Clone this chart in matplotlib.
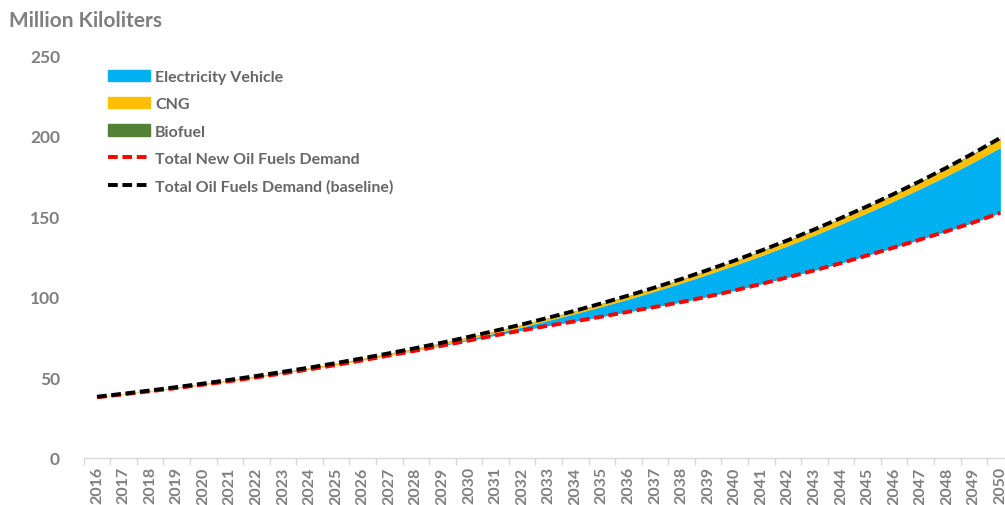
# oil_demand_chart.py
# Demanda de combustíveis: área empilhada (EV / CNG / Biofuel) sobre a nova demanda

import matplotlib
matplotlib.use("Agg")
import matplotlib.pyplot as plt
from matplotlib.patches import Patch
from matplotlib.lines import Line2D


# ---------- Dados ----------

years = list(range(2016, 2051))

baseline = [38.0, 39.9, 41.9, 44.0, 46.2, 48.5, 50.9, 53.5, 56.1, 58.9,
            61.9, 65.0, 68.2, 71.6, 75.2, 79.0, 82.9, 87.1, 91.4, 96.0,
            100.8, 105.8, 111.1, 116.7, 122.5, 128.7, 135.1, 141.8, 148.9, 156.2,
            163.9, 171.9, 180.3, 189.2, 198.6]

new_demand = [37.7, 39.5, 41.4, 43.4, 45.5, 47.7, 50.0, 52.5, 55.0, 57.7,
              60.6, 63.6, 66.6, 69.7, 72.9, 76.1, 79.2, 82.1, 84.8, 87.7,
              90.7, 93.7, 96.7, 100.2, 103.9, 108.0, 112.1, 116.4, 120.9, 125.7,
              130.6, 135.6, 140.8, 146.2, 152.1]

ev = [0.0, 0.0, 0.0, 0.0, 0.0, 0.0, 0.0, 0.1, 0.1, 0.2,
      0.1, 0.2, 0.3, 0.6, 0.9, 1.5, 2.1, 3.4, 4.8, 6.3,
      7.9, 9.8, 11.9, 13.8, 15.7, 17.5, 19.6, 21.8, 24.2, 26.5,
      28.9, 31.6, 34.4, 37.5, 40.5]

cng = [0.2, 0.3, 0.4, 0.5, 0.6, 0.7, 0.8, 0.8, 0.9, 0.9,
       1.0, 1.0, 1.1, 1.1, 1.2, 1.2, 1.4, 1.4, 1.5, 1.7,
       1.9, 2.0, 2.2, 2.4, 2.6, 2.8, 3.0, 3.2, 3.4, 3.6,
       3.9, 4.2, 4.6, 5.0, 5.5]

biofuel = [0.1, 0.1, 0.1, 0.1, 0.1, 0.1, 0.1, 0.1, 0.1, 0.1,
           0.2, 0.2, 0.2, 0.2, 0.2, 0.2, 0.2, 0.2, 0.3, 0.3,
           0.3, 0.3, 0.3, 0.3, 0.3, 0.4, 0.4, 0.4, 0.4, 0.4,
           0.5, 0.5, 0.5, 0.5, 0.5]

C_EV = "#00B0F0"
C_CNG = "#FFC000"
C_BIO = "#548235"
GREY = "#7F7F7F"
FONT = "Lato"

# ---------- Render ----------

x = list(range(len(years)))
top_ev = [a + b for a, b in zip(new_demand, ev)]
top_cng = [a + b for a, b in zip(top_ev, cng)]
top_bio = [a + b for a, b in zip(top_cng, biofuel)]

fig = plt.figure(figsize=(10.05, 5.06), dpi=100)
ax = fig.add_axes([0.0833, 0.0929, 0.9253, 0.7964])

ax.fill_between(x, new_demand, top_ev, color=C_EV, lw=0)
ax.fill_between(x, top_ev, top_cng, color=C_CNG, lw=0)
ax.fill_between(x, top_cng, top_bio, color=C_BIO, lw=0)

ax.plot(x, new_demand, color="#FF0000", lw=2.8, dashes=(2.5, 1.2), zorder=4)
ax.plot(x, baseline, color="black", lw=2.8, dashes=(2.5, 1.2), zorder=5)

ax.set_xlim(-0.5, len(years) - 0.5)
ax.set_ylim(0, 250)
ax.set_yticks(range(0, 251, 50))

ax.set_xticks(x)
ax.set_xticklabels([str(y) for y in years], rotation=90, va="top", ha="center")
ax.set_xticks([i - 0.5 for i in range(len(years) + 1)], minor=True)
ax.tick_params(axis="x", which="major", length=0, pad=6, labelsize=11.5,
               labelcolor=GREY)
ax.tick_params(axis="x", which="minor", length=5, color="#D9D9D9", width=1)
ax.tick_params(axis="y", length=0, pad=17, labelsize=12.5, labelcolor=GREY)
for lab in ax.get_xticklabels() + ax.get_yticklabels():
    lab.set_fontfamily(FONT)
    lab.set_fontweight("bold")

for side in ("top", "right", "left"):
    ax.spines[side].set_visible(False)
ax.spines["bottom"].set_color("#D9D9D9")
ax.spines["bottom"].set_linewidth(1)

fig.text(0.009, 0.958, "Million Kiloliters", fontsize=15, fontweight="bold",
         color=GREY, family=FONT, va="center", ha="left")

handles = [
    Patch(color=C_EV, label="Electricity Vehicle"),
    Patch(color=C_CNG, label="CNG"),
    Patch(color=C_BIO, label="Biofuel"),
    Line2D([], [], color="#FF0000", lw=2.8, dashes=(2.5, 1.2),
           label="Total New Oil Fuels Demand"),
    Line2D([], [], color="black", lw=2.8, dashes=(2.5, 1.2),
           label="Total Oil Fuels Demand (baseline)"),
]
leg = fig.legend(handles=handles, loc="upper left",
                 bbox_to_anchor=(0.1075, 0.86), frameon=False,
                 prop={"family": FONT, "weight": "bold", "size": 11.5},
                 handlelength=2.65, handleheight=0.7, handletextpad=0.3,
                 labelspacing=0.82, borderpad=0, borderaxespad=0)
for t in leg.get_texts():
    t.set_color("#666666")

fig.savefig("out.png", dpi=100)
plt.close(fig)
